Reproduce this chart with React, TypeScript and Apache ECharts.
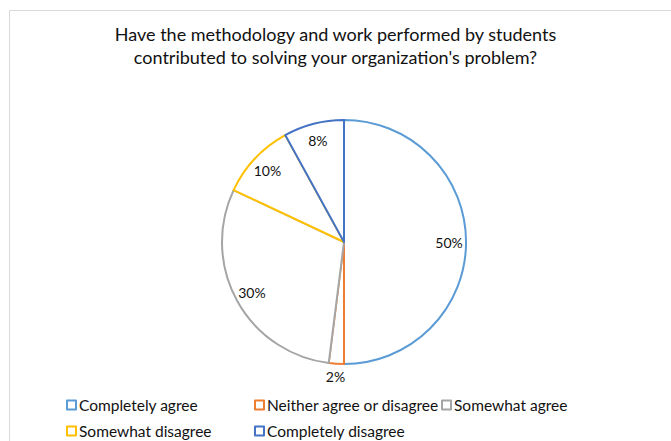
import React, { useEffect, useRef } from "react";
import * as echarts from "echarts";

const titleLines = [
  "Have the methodology and work performed by students",
  "contributed to solving your organization's problem?",
];
const categories = [
  "Completely agree",
  "Neither agree or disagree",
  "Somewhat agree",
  "Somewhat disagree",
  "Completely disagree",
];
const values = [50, 2, 30, 10, 8];
const colors = ["#5B9BD5", "#ED7D31", "#A5A5A5", "#FFC000", "#4472C4"];
// which labels sit outside the pie (Excel best-fit)
const outsideLabel = [false, true, false, false, false];

const FONT = "Lato, 'Open Sans', sans-serif";
const TEXT = "#111111";

export default function App() {
  const ref = useRef<HTMLDivElement>(null);
  useEffect(() => {
    if (!ref.current) return;
    const chart = echarts.init(ref.current, undefined, { renderer: "svg" });

    const mainData = categories.map((name, i) => ({
      name,
      value: values[i],
      itemStyle: { color: "#ffffff", borderColor: colors[i], borderWidth: 2 },
    }));
    const labelData = (outside: boolean) =>
      categories.map((name, i) => ({
        name,
        value: values[i],
        label: { show: outsideLabel[i] === outside },
      }));

    const legendPos = [
      { left: 66, top: 397 },
      { left: 254, top: 397 },
      { left: 441, top: 397 },
      { left: 66, top: 423 },
      { left: 254, top: 423 },
    ];

    const labelSeriesBase = {
      type: "pie",
      center: [344, 242],
      silent: true,
      avoidLabelOverlap: false,
      itemStyle: { color: "rgba(0,0,0,0)", borderWidth: 0 },
      labelLine: { show: false },
      emphasis: { disabled: true },
      label: {
        position: "inside",
        formatter: "{c}%",
        color: TEXT,
        fontFamily: FONT,
        fontSize: 14,
      },
    };

    chart.setOption({
      animation: false,
      backgroundColor: "#ffffff",
      title: {
        text: titleLines.join("\n"),
        left: "center",
        top: 17,
        textStyle: {
          fontFamily: FONT,
          fontSize: 18,
          fontWeight: "normal",
          color: TEXT,
          lineHeight: 23,
        },
      },
      legend: categories.map((name, i) => ({
        data: [name],
        left: legendPos[i].left,
        top: legendPos[i].top,
        padding: 0,
        itemWidth: 9,
        itemHeight: 9,
        icon: "rect",
        selectedMode: false,
        itemStyle: { color: "#ffffff", borderColor: colors[i], borderWidth: 2 },
        textStyle: { fontFamily: FONT, fontSize: 15.5, color: TEXT, padding: [0, 0, 0, -2] },
      })),
      graphic: [
        {
          type: "rect",
          shape: { x: 9.5, y: 10.5, width: 700, height: 500 },
          style: { fill: "none", stroke: "#d9d9d9", lineWidth: 1 },
          silent: true,
          z: -1,
        },
      ],
      series: [
        {
          type: "pie",
          name: "main",
          center: [344, 242],
          radius: 122,
          startAngle: 90,
          clockwise: true,
          silent: true,
          label: { show: false },
          labelLine: { show: false },
          emphasis: { disabled: true },
          data: mainData,
        },
        {
          ...labelSeriesBase,
          name: "labelsIn",
          radius: [80, 124],
          data: labelData(false),
        },
        {
          ...labelSeriesBase,
          name: "labelsOut",
          radius: [125, 139],
          data: labelData(true),
        },
      ],
    });
    return () => chart.dispose();
  }, []);
  return (
    <div
      ref={ref}
      style={{ position: "fixed", left: 0, top: 0, width: 671, height: 441 }}
    />
  );
}
